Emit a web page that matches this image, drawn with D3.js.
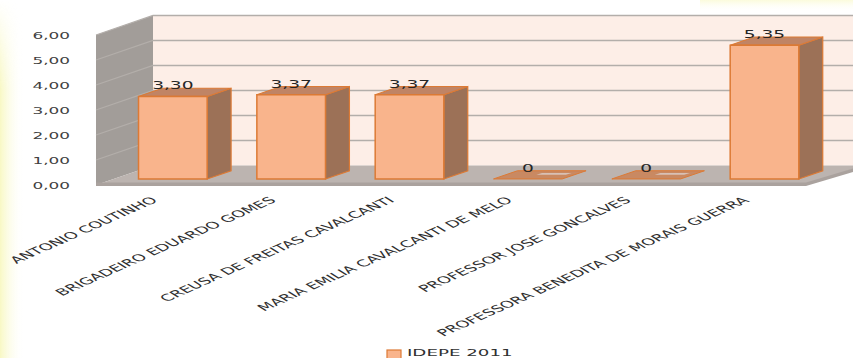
<!DOCTYPE html>
<html><head><meta charset="utf-8">
<script src="https://cdn.jsdelivr.net/npm/d3@7"></script>
<style>html,body{margin:0;padding:0;background:#fff;}svg{display:block;}</style>
</head><body>
<svg id="c" width="853" height="358"></svg>
<script>
const categories = ["ANTONIO COUTINHO","BRIGADEIRO EDUARDO GOMES","CREUSA DE FREITAS CAVALCANTI","MARIA EMILIA CAVALCANTI DE MELO","PROFESSOR JOSE GONCALVES","PROFESSORA BENEDITA DE MORAIS GUERRA"];
const values = [3.30, 3.37, 3.37, 0, 0, 5.35];
const valueLabels = ["3,30","3,37","3,37","0","0","5,35"];
const yTicks = [0,1,2,3,4,5,6];
const yTickLabels = ["0,00","1,00","2,00","3,00","4,00","5,00","6,00"];
const seriesName = "IDEPE 2011";

const svg = d3.select("#c");
const SX = 1.9; // horizontal text stretch
const DX = 57, DY = -19.5; // depth offset
const x = d3.scaleBand().domain(categories).range([96, 806]).paddingInner(0.42).paddingOuter(0.21);
const y = d3.scaleLinear().domain([0, 6]).range([185, 35]);
const P = (px, v, d) => [px + d*DX, y(v) + d*DY];
const poly = pts => "M" + pts.map(p => p.join(",")).join("L") + "Z";

// background glow
const defs = svg.append("defs");
const g1 = defs.append("linearGradient").attr("id","gl").attr("x1",0).attr("x2",1).attr("y1",0).attr("y2",0);
g1.append("stop").attr("offset",0).attr("stop-color","#f8f8c4").attr("stop-opacity",1);
g1.append("stop").attr("offset",1).attr("stop-color","#ffffff").attr("stop-opacity",0);
const g2 = defs.append("linearGradient").attr("id","gt").attr("x1",0).attr("x2",0).attr("y1",0).attr("y2",1);
g2.append("stop").attr("offset",0).attr("stop-color","#fbfbdc").attr("stop-opacity",1);
g2.append("stop").attr("offset",1).attr("stop-color","#ffffff").attr("stop-opacity",0);
const g3 = defs.append("linearGradient").attr("id","gv").attr("x1",0).attr("x2",0).attr("y1",0).attr("y2",1);
g3.append("stop").attr("offset",0).attr("stop-color","#fff").attr("stop-opacity",0);
g3.append("stop").attr("offset",0.25).attr("stop-color","#fff").attr("stop-opacity",1);
const mk = defs.append("mask").attr("id","mv");
mk.append("rect").attr("x",0).attr("y",0).attr("width",40).attr("height",358).attr("fill","url(#gv)");
svg.append("rect").attr("x",0).attr("y",0).attr("width",24).attr("height",358).attr("fill","url(#gl)").attr("mask","url(#mv)");
svg.append("rect").attr("x",700).attr("y",0).attr("width",153).attr("height",12).attr("fill","url(#gt)");

const x0 = x.range()[0], x1 = x.range()[1];
// back wall
svg.append("path").attr("d", poly([P(x0,0,1),P(x0,6,1),P(x1,6,1),P(x1,0,1)])).attr("fill","#fdeee7");
// left wall
svg.append("path").attr("d", poly([P(x0,0,0),P(x0,6,0),P(x0,6,1),P(x0,0,1)])).attr("fill","#a29d99");
// gridlines
yTicks.forEach(t => {
  if (t === 0) return;
  const a = P(x0,t,0), b = P(x0,t,1), c = P(x1,t,1);
  svg.append("path").attr("d", `M${a}L${b}L${c}`).attr("fill","none").attr("stroke","#b3aeaa").attr("stroke-width",1.3);
});
// floor
svg.append("path").attr("d", poly([P(x0,0,0),P(x0,0,1),P(x1,0,1),P(x1,0,0)])).attr("fill","#bcb4b0");
svg.append("path").attr("d", poly([[x0,y(0)-2.5],[x1,y(0)-2.5],[x1,y(0)+1],[x0,y(0)+1]])).attr("fill","#aaa29e");
svg.append("path").attr("d", poly([[x1,y(0)-2.5],P(x1,0,1),[P(x1,0,1)[0],P(x1,0,1)[1]+3.5],[x1,y(0)+1]])).attr("fill","#aaa29e");

// y tick labels
yTicks.forEach((t,i) => {
  svg.append("text").attr("transform",`translate(70,${y(t)+1}) scale(${SX},1)`)
    .attr("text-anchor","end").attr("dominant-baseline","middle")
    .attr("font-family","DejaVu Sans").attr("font-size",8.9).attr("fill","#404040")
    .text(yTickLabels[i]);
});

// bars
const d0 = 0.31, d1 = 0.73;
const FRONT="#f9b48c", SIDE="#9c7157", TOP="#c08465", EDGE="#dc7a35";
categories.forEach((c,i) => {
  const v = values[i];
  const xl = x(c), xr = x(c) + x.bandwidth();
  const g = svg.append("g");
  if (v > 0) {
    g.append("path").attr("d", poly([P(xr,0,d0),P(xr,v,d0),P(xr,v,d1),P(xr,0,d1)])).attr("fill",SIDE).attr("stroke",EDGE).attr("stroke-width",1.2);
    g.append("path").attr("d", poly([P(xl,v,d0),P(xl,v,d1),P(xr,v,d1),P(xr,v,d0)])).attr("fill",TOP).attr("stroke",EDGE).attr("stroke-width",1.2);
    g.append("path").attr("d", poly([P(xl,0,d0),P(xl,v,d0),P(xr,v,d0),P(xr,0,d0)])).attr("fill",FRONT).attr("stroke",EDGE).attr("stroke-width",1.5);
  } else {
    g.append("path").attr("d", poly([P(xl,0,d0),P(xl,0,d1),P(xr,0,d1),P(xr,0,d0)])).attr("fill","#c98962").attr("stroke",EDGE).attr("stroke-width",1);
    const xm1 = xl + x.bandwidth()*0.45, xm2 = xl + x.bandwidth()*0.88;
    g.append("path").attr("d", poly([P(xm1,0,0.52),P(xm1,0,0.62),P(xm2,0,0.62),P(xm2,0,0.52)])).attr("fill","#d8c0b4");
  }
  const fx = P(xl + x.bandwidth()/2, v, d0)[0];
  const ty = P(xl, v, d1)[1];
  svg.append("text").attr("transform",`translate(${fx},${ty+1}) scale(${SX},1)`)
    .attr("text-anchor","middle").attr("font-family","DejaVu Sans").attr("font-size",9.8).attr("fill","#262626")
    .text(valueLabels[i]);
});

// category labels
categories.forEach((c,i) => {
  const cx = x(c) + x.bandwidth()/2 - 5;
  svg.append("text").attr("transform",`translate(${cx},196) scale(${SX},1) rotate(-40)`)
    .attr("text-anchor","end").attr("dominant-baseline","hanging")
    .attr("font-family","DejaVu Sans").attr("font-size",9.4).attr("fill","#303030")
    .text(c);
});

// legend
svg.append("rect").attr("x",387).attr("y",350).attr("width",14).attr("height",9).attr("fill",FRONT).attr("stroke",EDGE).attr("stroke-width",1.2);
svg.append("text").attr("transform",`translate(407,353) scale(${SX},1)`).attr("dominant-baseline","middle")
  .attr("font-family","DejaVu Sans").attr("font-size",9.6).attr("fill","#303030").text(seriesName);
</script>
</body></html>
